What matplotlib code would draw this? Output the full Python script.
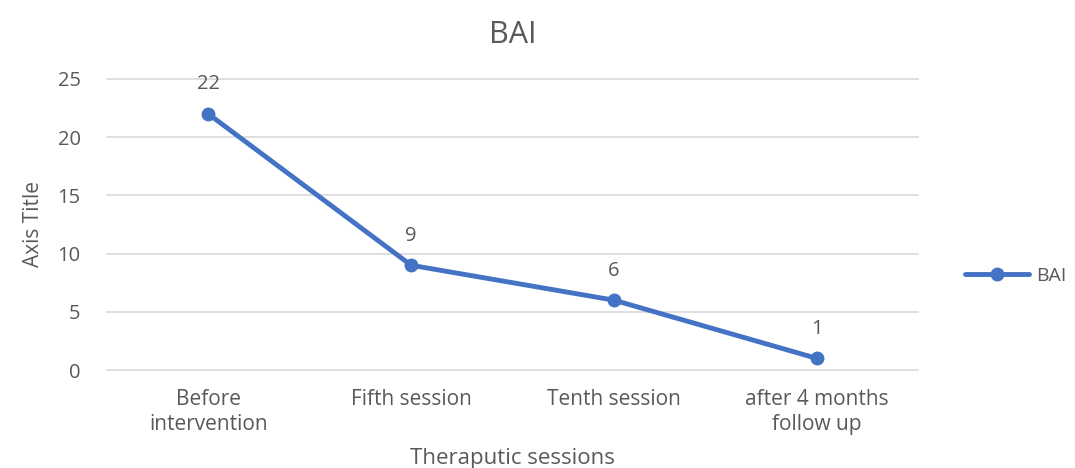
import numpy as np
import matplotlib
matplotlib.use("Agg")
import matplotlib.pyplot as plt

plt.rcParams["font.family"] = ["Open Sans", "DejaVu Sans"]

categories = ["Before\nintervention", "Fifth session", "Tenth session", "after 4 months\nfollow up"]
bai = [22, 9, 6, 1]

blue = "#4472C4"
grey = "#595959"

fig = plt.figure(figsize=(10.75, 4.68), dpi=100)
ax = fig.add_axes([0.0995, 0.2094, 0.7545, 0.6218])

x = np.arange(len(categories))
ax.plot(x, bai, color=blue, lw=3.5, marker="o", ms=9, label="BAI",
        solid_capstyle="round", zorder=3)
for xi, v in zip(x, bai):
    ax.annotate(str(v), (xi, v), xytext=(0, 14), textcoords="offset points",
                ha="center", va="bottom", fontsize=14.5, color=grey)

ax.set_xlim(-0.5, len(categories) - 0.5)
ax.set_ylim(0, 25)
ax.set_yticks(range(0, 26, 5))
ax.set_xticks(x)
ax.set_xticklabels(categories, fontsize=15, color=grey, linespacing=1.25)
ax.tick_params(axis="y", labelsize=14.5, labelcolor=grey, length=0, pad=19)
ax.tick_params(axis="x", length=0, pad=14)
ax.grid(axis="y", color="#D9D9D9", lw=1.2)
for gl in ax.get_ygridlines():
    gl.set_clip_on(False)
ax.set_axisbelow(True)
for s in ax.spines.values():
    s.set_visible(False)

ax.set_title("BAI", fontsize=22, color=grey, pad=26)
ax.set_xlabel("Theraputic sessions", fontsize=16, color=grey, labelpad=9)
ax.set_ylabel("Axis Title", fontsize=15, color=grey, labelpad=10)

leg = ax.legend(loc="center left", bbox_to_anchor=(1.0, 0.323), frameon=False,
                fontsize=14, handlelength=3.3, handletextpad=0.35,
                borderaxespad=2.2, borderpad=0.2)
for t in leg.get_texts():
    t.set_color(grey)

fig.savefig("out.png", dpi=100)
